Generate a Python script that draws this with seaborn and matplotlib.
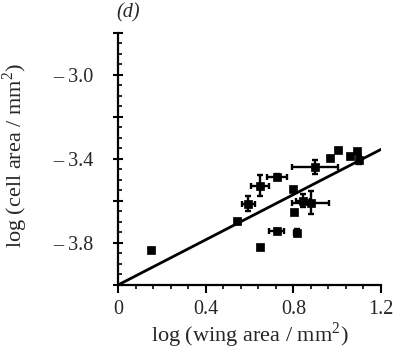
import matplotlib
matplotlib.use("Agg")
import matplotlib.pyplot as plt
import seaborn as sns
import numpy as np
import pandas as pd
from matplotlib.ticker import FixedLocator, FixedFormatter, MultipleLocator

# data
wing = [0.149, 0.541, 0.595, 0.648, 0.724, 0.648, 0.724, 0.815, 0.797, 0.803,
        0.844, 0.880, 0.899, 0.967, 1.005, 1.058, 1.092, 1.100]
cell = [-3.833, -3.697, -3.613, -3.527, -3.484, -3.817, -3.741, -3.751, -3.544, -3.654,
        -3.599, -3.608, -3.437, -3.398, -3.358, -3.387, -3.362, -3.406]
wing_err = [0, 0, 0.030, 0.043, 0.046, 0, 0.034, 0.010, 0, 0,
            0.030, 0.085, 0.106, 0, 0, 0, 0, 0.010]
cell_err = [0, 0, 0.035, 0.050, 0.010, 0, 0.006, 0.015, 0, 0,
            0.030, 0.055, 0.033, 0, 0, 0, 0, 0.020]
fit_x = [0.0, 1.2]
fit_y = [-4.0, -3.355]

x_ticks = [0, 0.4, 0.8, 1.2]
x_labels = ["0", "0.4", "0.8", "1.2"]
y_ticks = [-4.0, -3.8, -3.6, -3.4, -3.2, -3.0, -2.8]
y_labels = ["", "\u2013 3.8", "", "\u2013 3.4", "", "\u2013 3.0", ""]

df = pd.DataFrame({"wing": wing, "cell": cell, "xe": wing_err, "ye": cell_err})
line_df = pd.DataFrame({"x": fit_x, "y": fit_y})

sns.set_style("ticks")
plt.rcParams["font.family"] = ["Liberation Serif", "DejaVu Serif"]
plt.rcParams["mathtext.fontset"] = "custom"
plt.rcParams["mathtext.rm"] = "Liberation Serif"

fig = plt.figure(figsize=(4.05, 3.57), dpi=100)
ax = fig.add_axes([0.2914, 0.2017, 0.6493, 0.7067])

sns.lineplot(data=line_df, x="x", y="y", ax=ax, color="black", linewidth=2.0)
ax.errorbar(df["wing"], df["cell"], xerr=df["xe"], yerr=df["ye"], fmt="none",
            ecolor="black", elinewidth=1.7, capsize=2.5, capthick=1.7)
sns.scatterplot(data=df, x="wing", y="cell", ax=ax, marker="s", s=40,
                color="black", edgecolor="black", linewidth=0.5)

ax.set_xlim(0, 1.2)
ax.set_ylim(-4.0, -2.8)
sns.despine(ax=ax)
for s in ["left", "bottom"]:
    ax.spines[s].set_linewidth(1.6)
    ax.spines[s].set_color("black")

ax.xaxis.set_major_locator(FixedLocator(x_ticks))
ax.xaxis.set_major_formatter(FixedFormatter(x_labels))
ax.xaxis.set_minor_locator(MultipleLocator(0.08))
ax.yaxis.set_major_locator(FixedLocator(y_ticks))
ax.yaxis.set_major_formatter(FixedFormatter(y_labels))
ax.yaxis.set_minor_locator(MultipleLocator(0.05))

ax.tick_params(axis="x", which="major", direction="out", length=6, width=1.5,
               labelsize=14.5, pad=5, color="black")
ax.tick_params(axis="x", which="minor", direction="out", length=3, width=1.2, color="black")
ax.tick_params(axis="y", which="major", direction="inout", length=7, width=1.5,
               labelsize=14.5, pad=14, color="black")
ax.tick_params(axis="y", which="minor", direction="in", length=3, width=1.2, color="black")

ax.set_xlabel("log (wing area / mm$^2$)", fontsize=16)
ax.xaxis.set_label_coords(0.5, -0.14)
ax.set_ylabel("log (cell area / mm$^2$)", fontsize=16)
ax.yaxis.set_label_coords(-0.335, 0.515)
ax.text(-0.005, 1.04, "(d)", transform=ax.transAxes, fontsize=14.5, style="italic",
        ha="left", va="bottom")

fig.savefig("out.png", dpi=100)
